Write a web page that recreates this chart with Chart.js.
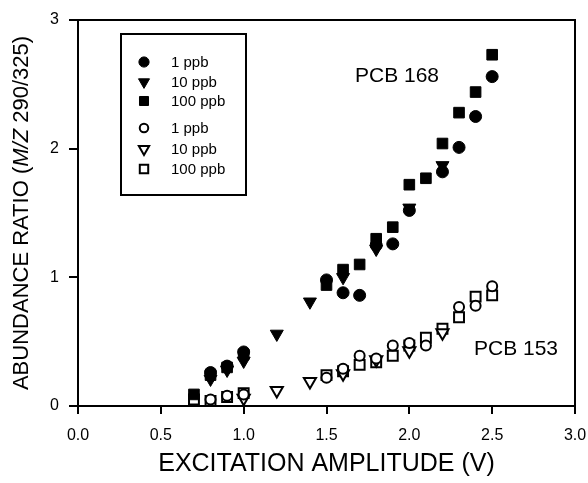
<!DOCTYPE html>
<html>
<head>
<meta charset="utf-8">
<script src="https://cdn.jsdelivr.net/npm/chart.js@4"></script>
<style>
  html, body { margin: 0; padding: 0; background: #fff; }
  #wrap { width: 588px; height: 483px; }
</style>
</head>
<body>
<div id="wrap"><canvas id="chart" width="588" height="483"></canvas></div>
<script>
// PCB 168 (filled markers)
const x168_1ppb = [0.8, 0.9, 1.0, 1.5, 1.6, 1.7, 1.8, 1.9, 2.0, 2.2, 2.3, 2.4, 2.5];
const y168_1ppb = [0.26, 0.31, 0.42, 0.98, 0.88, 0.86, 1.25, 1.26, 1.52, 1.82, 2.01, 2.25, 2.56];
const x168_10ppb = [0.8, 0.9, 1.0, 1.2, 1.4, 1.6, 1.8, 2.0, 2.2];
const y168_10ppb = [0.21, 0.28, 0.35, 0.56, 0.81, 1.00, 1.22, 1.54, 1.87];
const x168_100ppb = [0.7, 0.8, 0.9, 1.0, 1.5, 1.6, 1.7, 1.8, 1.9, 2.0, 2.1, 2.2, 2.3, 2.4, 2.5];
const y168_100ppb = [0.09, 0.24, 0.30, 0.40, 0.94, 1.06, 1.10, 1.30, 1.39, 1.72, 1.77, 2.04, 2.28, 2.44, 2.73];
// PCB 153 (open markers)
const x153_1ppb = [0.8, 0.9, 1.0, 1.5, 1.6, 1.7, 1.8, 1.9, 2.0, 2.1, 2.3, 2.4, 2.5];
const y153_1ppb = [0.05, 0.08, 0.09, 0.22, 0.29, 0.39, 0.37, 0.47, 0.49, 0.47, 0.77, 0.78, 0.93];
const x153_10ppb = [1.0, 1.2, 1.4, 1.6, 1.8, 2.0, 2.2];
const y153_10ppb = [0.06, 0.12, 0.19, 0.25, 0.36, 0.43, 0.57];
const x153_100ppb = [0.7, 0.8, 0.9, 1.0, 1.5, 1.6, 1.7, 1.8, 1.9, 2.0, 2.1, 2.2, 2.3, 2.4, 2.5];
const y153_100ppb = [0.05, 0.04, 0.07, 0.10, 0.24, 0.27, 0.32, 0.34, 0.39, 0.47, 0.53, 0.60, 0.69, 0.85, 0.86];

const legendLabels = ['1 ppb', '10 ppb', '100 ppb', '1 ppb', '10 ppb', '100 ppb'];
const xTicks = [0, 0.5, 1.0, 1.5, 2.0, 2.5, 3.0];
const yTicks = [0, 1, 2, 3];

const FONT = '"Liberation Sans", Arial, sans-serif';

function pts(xs, ys) { return xs.map((x, i) => ({ x: x, y: ys[i] })); }

function ds(label, xs, ys, style, filled, r) {
  return {
    label: label,
    data: pts(xs, ys),
    pointStyle: style,
    pointRotation: style === 'triangle' ? 180 : 0,
    pointRadius: r,
    pointHoverRadius: r,
    pointBackgroundColor: filled ? '#000' : '#fff',
    pointBorderColor: '#000',
    pointBorderWidth: filled ? 1 : 2,
    showLine: false
  };
}

const datasets = [
  ds(legendLabels[0], x168_1ppb, y168_1ppb, 'circle', true, 6),
  ds(legendLabels[1], x168_10ppb, y168_10ppb, 'triangle', true, 7.5),
  ds(legendLabels[2], x168_100ppb, y168_100ppb, 'rect', true, 7.5),
  ds(legendLabels[3], x153_1ppb, y153_1ppb, 'circle', false, 5),
  ds(legendLabels[4], x153_10ppb, y153_10ppb, 'triangle', false, 7),
  ds(legendLabels[5], x153_100ppb, y153_100ppb, 'rect', false, 7)
];

// extras: frame lines, inset legend, labels, y title with italic M/Z
const extras = {
  id: 'extras',
  afterDraw(chart) {
    const ctx = chart.ctx;
    const a = chart.chartArea;
    ctx.save();
    ctx.strokeStyle = '#000';
    ctx.lineWidth = 2;
    ctx.beginPath();
    ctx.moveTo(a.left - 9, a.top);
    ctx.lineTo(a.right, a.top);
    ctx.lineTo(a.right, a.bottom);
    ctx.stroke();

    // legend box
    ctx.strokeRect(121, 34, 125, 161);
    const rows = [62, 82, 101, 128, 149, 169];
    ctx.font = '15px ' + FONT;
    ctx.fillStyle = '#000';
    ctx.textBaseline = 'middle';
    ctx.textAlign = 'left';
    chart.data.datasets.forEach((d, i) => {
      ctx.save();
      ctx.fillStyle = d.pointBackgroundColor;
      ctx.strokeStyle = d.pointBorderColor;
      ctx.lineWidth = d.pointBorderWidth;
      Chart.helpers.drawPoint(ctx, {
        pointStyle: d.pointStyle,
        rotation: d.pointRotation,
        radius: d.pointRadius * 0.85,
        borderWidth: d.pointBorderWidth
      }, 144, rows[i]);
      ctx.restore();
      ctx.fillText(d.label, 171, rows[i] + 1);
    });

    // series labels
    ctx.font = '21px ' + FONT;
    ctx.fillText('PCB 168', 355, 76);
    ctx.fillText('PCB 153', 474, 349);

    // y axis title
    ctx.translate(22, (a.top + a.bottom) / 2);
    ctx.rotate(-Math.PI / 2);
    const parts = [
      ['ABUNDANCE RATIO (', 'normal'],
      ['M/Z', 'italic'],
      [' 290/325)', 'normal']
    ];
    let total = 0;
    parts.forEach(p => { ctx.font = p[1] + ' 22px ' + FONT; total += ctx.measureText(p[0]).width; });
    let xx = -total / 2;
    parts.forEach(p => {
      ctx.font = p[1] + ' 22px ' + FONT;
      ctx.fillText(p[0], xx, 0);
      xx += ctx.measureText(p[0]).width;
    });
    ctx.restore();
  }
};

new Chart(document.getElementById('chart'), {
  type: 'scatter',
  data: { datasets: datasets },
  options: {
    responsive: false,
    animation: false,
    layout: { padding: { top: 20, right: 0, left: 0, bottom: 0 } },
    plugins: { legend: { display: false }, tooltip: { enabled: false } },
    scales: {
      x: {
        type: 'linear',
        min: 0, max: 3,
        afterBuildTicks(s) { s.ticks = xTicks.map(v => ({ value: v })); },
        afterFit(s) { s.height = 77; s.paddingRight = 13; s.paddingLeft = 0; },
        border: { color: '#000', width: 2 },
        grid: { drawOnChartArea: false, color: '#000', lineWidth: 2, tickLength: 8 },
        ticks: {
          color: '#000', padding: 12,
          font: { family: FONT, size: 16 },
          callback: v => Number(v).toFixed(1)
        },
        title: {
          display: true, text: 'EXCITATION AMPLITUDE (V)', color: '#000',
          font: { family: FONT, size: 25 }, padding: { top: 6 }
        }
      },
      y: {
        type: 'linear',
        min: 0, max: 3,
        afterBuildTicks(s) { s.ticks = yTicks.map(v => ({ value: v })); },
        afterFit(s) { s.width = 78; },
        border: { color: '#000', width: 2 },
        grid: { drawOnChartArea: false, color: '#000', lineWidth: 2, tickLength: 9 },
        ticks: {
          color: '#000', padding: 10,
          font: { family: FONT, size: 16 }
        }
      }
    }
  },
  plugins: [extras]
});
</script>
</body>
</html>
